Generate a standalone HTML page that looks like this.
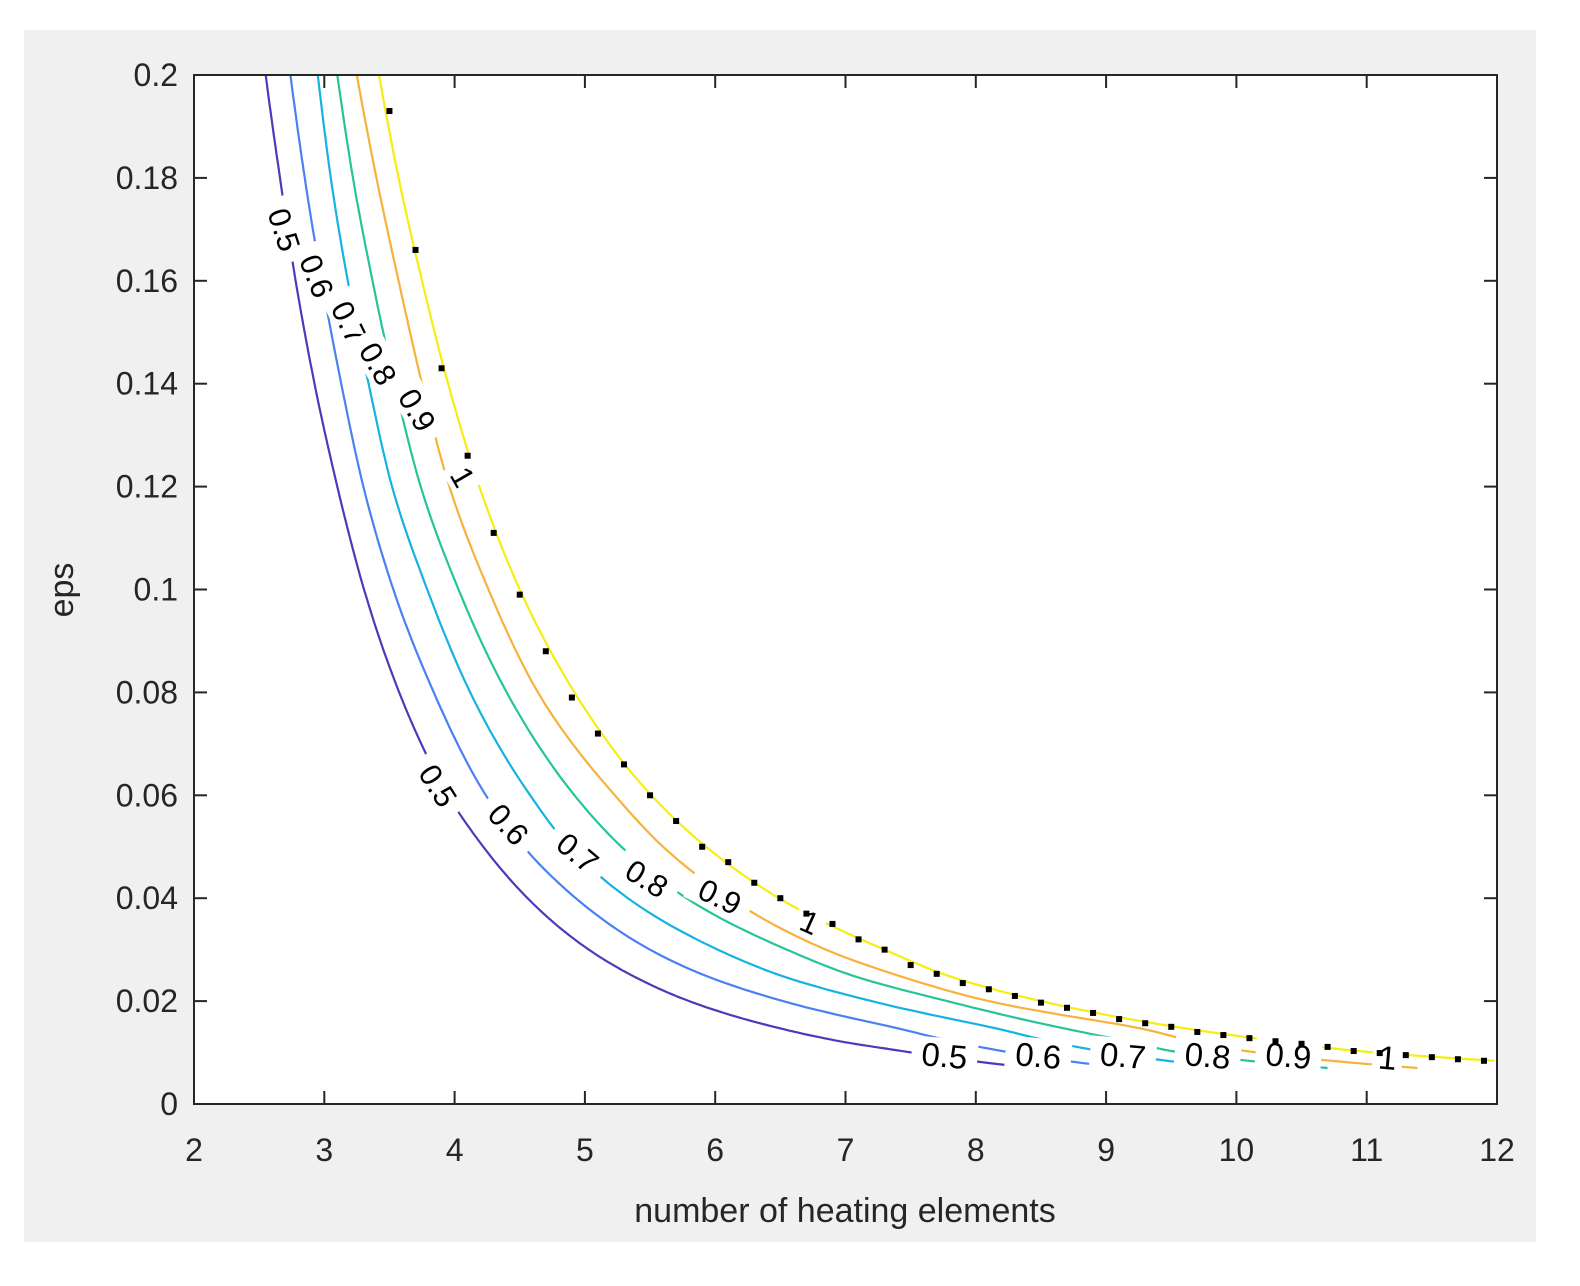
<!DOCTYPE html>
<html><head><meta charset="utf-8"><style>
body{margin:0;background:#fff;}
svg{display:block;font-family:"Liberation Sans",sans-serif;}
</style></head><body>
<svg id="chart" width="1580" height="1286" viewBox="0 0 1580 1286" xmlns="http://www.w3.org/2000/svg">
<rect x="0" y="0" width="1580" height="1286" fill="#fff"/>
<rect x="24" y="30" width="1512" height="1212" fill="#f0f0f0"/>
<rect x="194" y="75" width="1303" height="1029" fill="#fff"/>
<g id="lines"></g>
<g id="labels"></g>
<g id="dots"></g>
<g id="axes"></g>
<text x="845" y="1222" font-size="34" fill="#262626" text-anchor="middle">number of heating elements</text>
<text transform="translate(73,590) rotate(-90)" font-size="34" fill="#262626" text-anchor="middle">eps</text>
</svg>
<script>
const levels = [0.5, 0.6, 0.7, 0.8, 0.9, 1];
const levelColors = ["#4a3bb8", "#4a80f2", "#15b2e2", "#25c49a", "#f6b23c", "#f5ee10"];
const epsGrid = [0.2, 0.18, 0.16, 0.14, 0.12, 0.10, 0.08, 0.06, 0.05, 0.04, 0.03, 0.025, 0.02, 0.015];
const nLevel05 = [2.55, 2.66, 2.78, 2.925, 3.10, 3.305, 3.575, 3.95, 4.22, 4.56, 5.03, 5.36, 5.80, 6.45];
const nLevel06 = [2.74, 2.85, 2.98, 3.13, 3.30, 3.53, 3.84, 4.24, 4.53, 4.93, 5.50, 5.92, 6.52, 7.35];
const nLevel07 = [2.95, 3.05, 3.18, 3.34, 3.52, 3.79, 4.12, 4.58, 4.88, 5.33, 6.02, 6.50, 7.20, 8.10];
const nLevel08 = [3.10, 3.22, 3.37, 3.54, 3.74, 4.03, 4.40, 4.92, 5.28, 5.78, 6.55, 7.05, 7.78, 8.62];
const nLevel09 = [3.25, 3.40, 3.57, 3.75, 3.96, 4.26, 4.64, 5.23, 5.60, 6.11, 6.85, 7.40, 8.10, 9.20];
const nLevel10 = [3.42, 3.57, 3.75, 3.95, 4.19, 4.50, 4.92, 5.51, 5.93, 6.49, 7.30, 7.78, 8.50, 9.53];
const tailEps05 = [0.012, 0.0105, 0.0074], tailN05 = [7.0, 7.38, 8.3];
const tailEps06 = [0.012, 0.0103, 0.0070], tailN06 = [7.85, 8.2, 9.15];
const tailEps07 = [0.012, 0.0103, 0.0074], tailN07 = [8.6, 8.95, 9.81];
const tailEps08 = [0.012, 0.0103, 0.0070], tailN08 = [9.2, 9.5, 10.7];
const tailEps09 = [0.012, 0.0103, 0.0070], tailN09 = [9.7, 10.07, 11.39];
const tailEps10 = [0.012, 0.0105, 0.0084], tailN10 = [10.38, 10.85, 11.98];
const levelSeries = [nLevel05, nLevel06, nLevel07, nLevel08, nLevel09, nLevel10];
const tailEps = [tailEps05, tailEps06, tailEps07, tailEps08, tailEps09, tailEps10];
const tailN = [tailN05, tailN06, tailN07, tailN08, tailN09, tailN10];
const dotN = [3.5,3.7,3.9,4.1,4.3,4.5,4.7,4.9,5.1,5.3,5.5,5.7,5.9,6.1,6.3,6.5,6.7,6.9,7.1,7.3,7.5,7.7,7.9,8.1,8.3,8.5,8.7,8.9,9.1,9.3,9.5,9.7,9.9,10.1,10.3,10.5,10.7,10.9,11.1,11.3,11.5,11.7,11.9];
const dotEps = [0.193,0.166,0.143,0.126,0.111,0.099,0.088,0.079,0.072,0.066,0.060,0.055,0.050,0.047,0.043,0.040,0.037,0.035,0.032,0.030,0.027,0.0253,0.0235,0.0223,0.021,0.0197,0.0187,0.0177,0.0165,0.0157,0.015,0.014,0.0134,0.0128,0.0122,0.0117,0.0111,0.0103,0.0099,0.0095,0.0091,0.0087,0.0084];
const xTicks = [2,3,4,5,6,7,8,9,10,11,12];
const yTicks = [0,0.02,0.04,0.06,0.08,0.1,0.12,0.14,0.16,0.18,0.2];
const yTickLabels = ["0","0.02","0.04","0.06","0.08","0.1","0.12","0.14","0.16","0.18","0.2"];
const labelN = [2.70,2.95,3.20,3.42,3.72,4.07, 3.88,4.42,4.95,5.48,6.04,6.73, 7.76,8.48,9.13,9.78,10.40,11.16];
const labelEps = [0.170,0.161,0.152,0.144,0.135,0.122, 0.0620,0.0545,0.0490,0.0440,0.0405,0.0355, 0.0095,0.0095,0.0095,0.0095,0.0095,0.0091];
const labelLevel = [0,1,2,3,4,5, 0,1,2,3,4,5, 0,1,2,3,4,5];
const labelRot = [72,68,64,60,60,60, 58,48,40,32,26,24, 5,5,5,5,5,5];

const X0=194, X1=1497, Y0=1104, Y1=75;
const sx = n => X0 + (n-2)/(12-2)*(X1-X0);
const sy = e => Y0 - e/0.2*(Y0-Y1);
const NS="http://www.w3.org/2000/svg";
function mk(tag, attrs, parent){const el=document.createElementNS(NS,tag);for(const k in attrs)el.setAttribute(k,attrs[k]);parent.appendChild(el);return el;}

// monotone cubic interpolation of log(n) vs log(eps)
function smoothCurve(epsArr, nArr){
  const u=epsArr.map(e=>Math.log(e)), v=nArr.map(n=>Math.log(n));
  const m=u.length, d=[], s=[];
  for(let i=0;i<m-1;i++) d.push((v[i+1]-v[i])/(u[i+1]-u[i]));
  for(let i=0;i<m;i++){
    if(i===0) s.push(d[0]); else if(i===m-1) s.push(d[m-2]);
    else s.push(d[i-1]*d[i]<=0?0:(d[i-1]+d[i])/2);
  }
  const out=[];
  for(let i=0;i<m-1;i++){
    const h=u[i+1]-u[i], steps=14;
    for(let k=0;k<steps;k++){
      const t=k/steps, t2=t*t, t3=t2*t;
      const val=(2*t3-3*t2+1)*v[i]+(t3-2*t2+t)*h*s[i]+(-2*t3+3*t2)*v[i+1]+(t3-t2)*h*s[i+1];
      out.push([sx(Math.exp(val)), sy(Math.exp(u[i]+t*h))]);
    }
  }
  out.push([sx(nArr[m-1]), sy(epsArr[m-1])]);
  return out;
}

const gL=document.getElementById('lines');
levelSeries.forEach((ns,i)=>{
  const eArr=epsGrid.concat(tailEps[i]);
  const nArr=ns.concat(tailN[i]);
  const pts=smoothCurve(eArr,nArr);
  const d='M'+pts.map(p=>p[0].toFixed(1)+','+p[1].toFixed(1)).join('L');
  const p=mk('path',{d:d,fill:'none',stroke:levelColors[i],'stroke-width':2.2,'stroke-linejoin':'round'},gL);
  
  
});

const gT=document.getElementById('labels');
labelN.forEach((n,k)=>{
  const x=sx(n), y=sy(labelEps[k]);
  const g=mk('g',{transform:`translate(${x},${y}) rotate(${labelRot[k]})`},gT);
  
  
  const txt=String(levels[labelLevel[k]]);
  const fs = k>=12 ? 33 : 31;
  const w=txt.length*18+12;
  mk('rect',{x:-w/2,y:-17,width:w,height:34,fill:'#fff'},g);
  const t=mk('text',{x:0,y:12,'font-size':fs,'text-anchor':'middle',fill:'#000'},g);
  t.textContent=txt;
});

const gD=document.getElementById('dots');
dotN.forEach((n,k)=>{
  const r=mk('rect',{x:sx(n)-3,y:sy(dotEps[k])-3,width:6,height:6,fill:'#000'},gD);
  
  
});

const gA=document.getElementById('axes');
const box=mk('rect',{x:X0,y:Y1,width:X1-X0,height:Y0-Y1,fill:'none',stroke:'#262626','stroke-width':2},gA);


xTicks.forEach(v=>{
  const x=sx(v);
  mk('line',{x1:x,y1:Y0,x2:x,y2:Y0-13,stroke:'#262626','stroke-width':2},gA);
  mk('line',{x1:x,y1:Y1,x2:x,y2:Y1+13,stroke:'#262626','stroke-width':2},gA);
  const t=mk('text',{x:x,y:Y0+57,'font-size':32,'text-anchor':'middle',fill:'#262626'},gA);
  
  
  t.textContent=v;
});
yTicks.forEach((v,k)=>{
  const y=sy(v);
  mk('line',{x1:X0,y1:y,x2:X0+13,y2:y,stroke:'#262626','stroke-width':2},gA);
  mk('line',{x1:X1,y1:y,x2:X1-13,y2:y,stroke:'#262626','stroke-width':2},gA);
  const t=mk('text',{x:X0-16,y:y+11,'font-size':32,'text-anchor':'end',fill:'#262626'},gA);
  
  
  t.textContent=yTickLabels[k];
});
</script>
</body></html>
